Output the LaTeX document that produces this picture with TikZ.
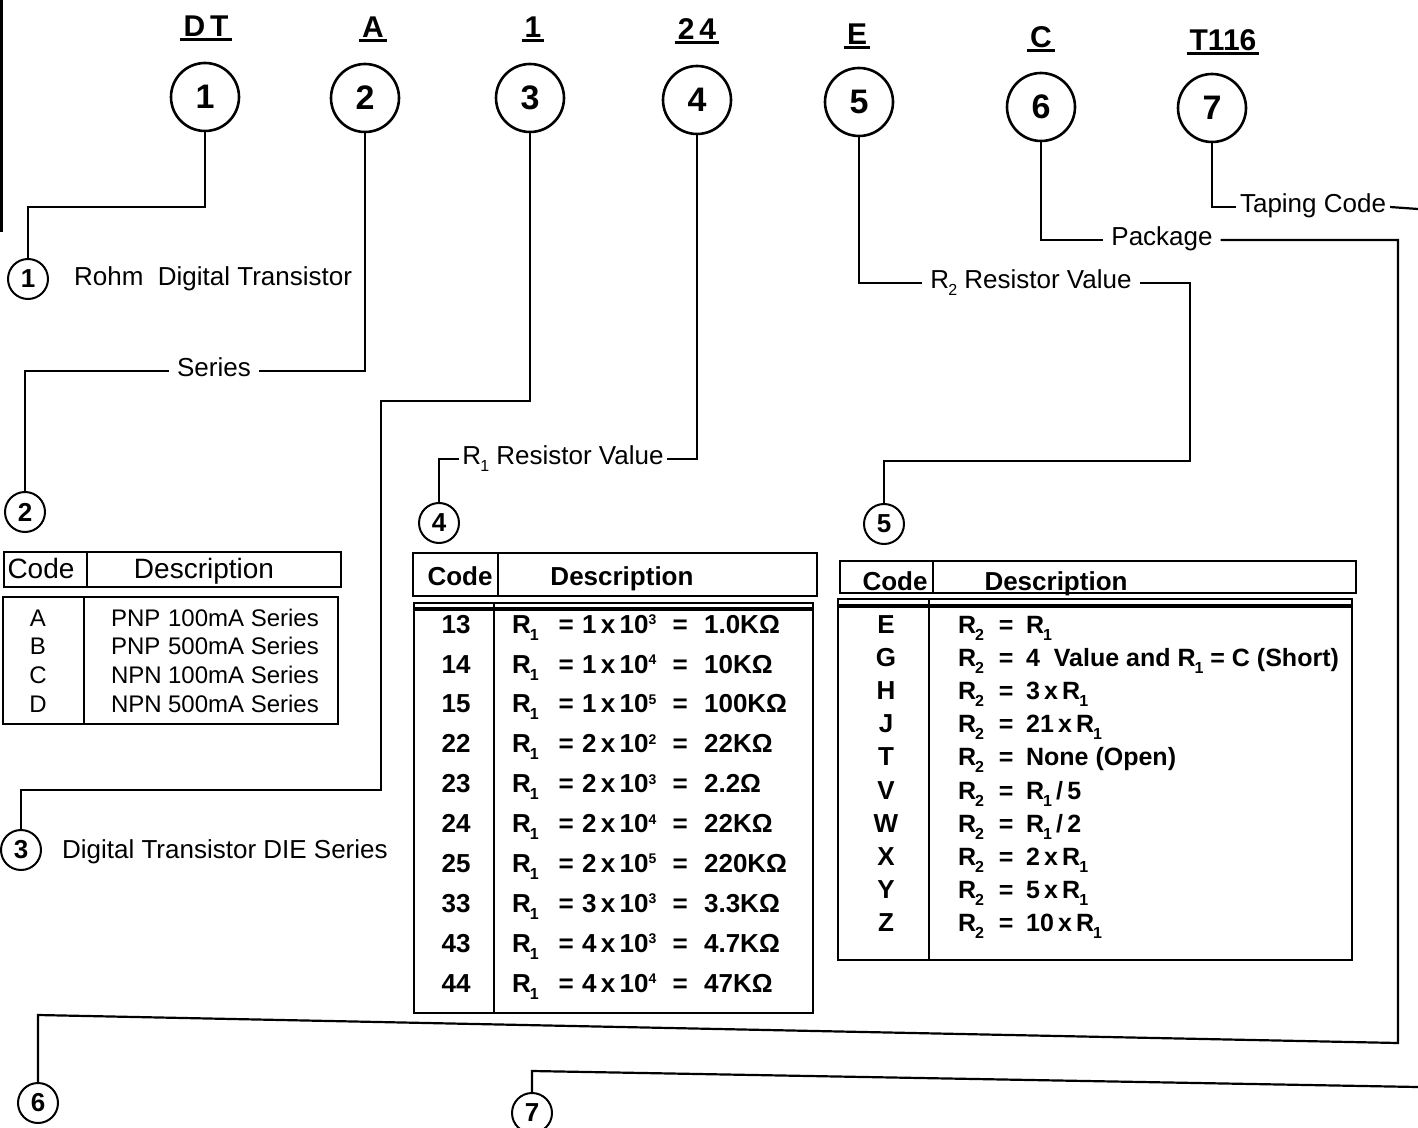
\documentclass[tikz,border=0pt]{standalone}
\usepackage{fontspec}
\setmainfont{Liberation Sans}
\usepackage{tikz}
\usetikzlibrary{positioning, calc}
\newcommand{\topstrut}{\rule{0pt}{12pt}}
\newcommand{\lo}[1]{\kern-0.5pt\raisebox{-3.5pt}{\fontsize{8}{8}\selectfont #1}}
\newcommand{\hi}[1]{\raisebox{4.3pt}{\fontsize{7}{7}\selectfont #1}}
\newcommand{\rone}[3]{\makebox[22pt][l]{R\lo{1}}\makebox[10pt]{=}\hspace{3pt}\makebox[44pt][l]{#1\,x\,10\hi{#2}}\makebox[10pt]{=}\hspace{7pt}#3}
\newcommand{\rtwo}[1]{\makebox[18pt][l]{R\lo{2}}\makebox[12pt]{=}\hspace{4pt}#1}

\begin{document}
\begin{tikzpicture}[x=0.5pt, y=-0.5pt, line width=1.1pt]
\tikzstyle{bigno} = [circle, draw, line width=1.3pt, minimum size=34pt, inner sep=0pt, font=\fontsize{17}{17}\selectfont\bfseries]
\tikzstyle{smallno} = [circle, draw, line width=1pt, minimum size=20pt, inner sep=0pt, font=\fontsize{13}{13}\selectfont\bfseries]
\tikzstyle{partcode} = [inner sep=1pt, font=\fontsize{15}{15}\selectfont\bfseries]
\tikzstyle{lbl} = [inner sep=3.5pt, font=\fontsize{13}{13}\selectfont]
\tikzstyle{tbox} = [line width=1.2pt]
\tikzstyle{thead} = [inner sep=0pt, anchor=base, font=\fontsize{13}{13}\selectfont\bfseries]
\useasboundingbox (0,0) rectangle (1418,1128);
\draw[line width=1.5pt] (1,0) -- (1,232);

% part number and its fields
\node[partcode] (hdt) at (206,26) {D\,T};
\node[partcode] (ha) at (373,27) {A};
\node[partcode] (hone) at (533,27) {1};
\node[partcode] (htf) at (697,29) {2\,4};
\node[partcode] (he) at (857,34) {E};
\node[partcode] (hc) at (1041,37) {C};
\node[partcode] (ht) at (1223,40) {T116};
\foreach \h in {hdt,ha,hone,htf,he,hc,ht}
  \draw[line width=1.5pt] (\h.south west) -- (\h.south east);

\node[bigno] (c1) at (205,97) {1};
\node[bigno] (c2) at (365,98) {2};
\node[bigno] (c3) at (530,98) {3};
\node[bigno] (c4) at (697,100) {4};
\node[bigno] (c5) at (859,102) {5};
\node[bigno] (c6) at (1041,107) {6};
\node[bigno] (c7) at (1212,108) {7};

% callouts
\node[smallno] (s1) at (28,279) {1};
\node[smallno] (s2) at (25,512) {2};
\node[smallno] (s3) at (21,850) {3};
\node[smallno] (s4) at (439,523) {4};
\node[smallno] (s5) at (884,524) {5};
\node[smallno] (s6) at (38,1103) {6};
\node[smallno] (s7) at (532,1113) {7};

\node[lbl, anchor=west] (lrohm) at (66,279) {Rohm\ \ Digital Transistor};
\node[lbl, anchor=west] (ldie) at (54,852) {Digital Transistor DIE Series};
\node[lbl, anchor=mid] (lser) at (214,371) {Series};
\node[lbl, anchor=mid, inner xsep=1pt] (lrone) at (563,459) {R\lo{1} Resistor Value};
\node[lbl, anchor=mid] (lrtwo) at (1031,283) {R\lo{2} Resistor Value};
\node[lbl, anchor=mid] (lpkg) at (1162,240) {Package};
\node[lbl, anchor=mid, inner xsep=1.5pt] (ltap) at (1313,207) {Taping Code};

\draw (c1.south) |- (28,207) -- (s1.north);
\draw (c2.south) |- (lser.mid east);
\draw (lser.mid west) -| (s2.north);
\draw (c3.south) |- (381,401) |- (21,790) -- (s3.north);
\draw (c4.south) |- (lrone.mid east);
\draw (lrone.mid west) -| (s4.north);
\draw (c5.south) |- (lrtwo.mid west);
\draw (lrtwo.mid east) -| (1190,461) -| (s5.north);
\draw (c6.south) |- (lpkg.mid west);
\draw (lpkg.mid east) -| (1398,1043) -- (38,1015) -- (s6.north);
\draw (c7.south) |- (ltap.mid west);
\coordinate (tapend) at (1418,209);
\coordinate (tapback) at (1418,1087);
\draw (ltap.mid east) -- (tapend);
\draw (tapback) -- (532,1071) -- (s7.north);

% table 2: series
\draw[tbox] (4,552) rectangle (341,587);
\draw[tbox] (87,552) -- (87,587);
\draw[tbox] (3,597) rectangle (338,724);
\draw[tbox] (84,597) -- (84,724);
\node[thead, font=\fontsize{14}{14}\selectfont] (t2code) at (41,578) {Code};
\node[thead, font=\fontsize{14}{14}\selectfont] (t2desc) at (204,578) {Description};
\node[inner sep=0pt, anchor=north, align=center, font=\fontsize{12}{14.4}\selectfont] (t2codes) at (38,601) {\topstrut A\\B\\C\\D};
\node[inner sep=0pt, anchor=north west, align=left, font=\fontsize{12}{14.4}\selectfont] (t2rows) at (110,601)
  {\topstrut\makebox[28.5pt][l]{PNP}100mA Series\\\makebox[28.5pt][l]{PNP}500mA Series\\\makebox[28.5pt][l]{NPN}100mA Series\\\makebox[28.5pt][l]{NPN}500mA Series};

% table 4: R1 value
\draw[tbox] (413,553) rectangle (817,596);
\draw[tbox] (498,553) -- (498,596);
\draw[tbox] (414,603) rectangle (813,1013);
\draw[tbox] (494,603) -- (494,1013);
\draw[line width=2pt] (414,609) -- (813,609);
\node[thead] (t4code) at (460,585) {Code};
\node[thead] (t4desc) at (622,585) {Description};
\node[inner sep=0pt, anchor=north, align=center, font=\fontsize{13}{19.95}\selectfont\bfseries] (t4codes) at (456,608)
  {\topstrut 13\\14\\15\\22\\23\\24\\25\\33\\43\\44};
\node[inner sep=0pt, anchor=north west, align=left, font=\fontsize{13}{19.95}\selectfont\bfseries] (t4rows) at (511,608)
  {\topstrut\rone{1}{3}{1.0KΩ}\\\rone{1}{4}{10KΩ}\\\rone{1}{5}{100KΩ}\\\rone{2}{2}{22KΩ}\\\rone{2}{3}{2.2Ω}\\\rone{2}{4}{22KΩ}\\\rone{2}{5}{220KΩ}\\\rone{3}{3}{3.3KΩ}\\\rone{4}{3}{4.7KΩ}\\\rone{4}{4}{47KΩ}};

% table 5: R2 value
\draw[tbox] (840,561) rectangle (1356,593);
\draw[tbox] (933,561) -- (933,593);
\draw[tbox] (838,599) rectangle (1352,960);
\draw[tbox] (929,599) -- (929,960);
\draw[line width=2pt] (838,606) -- (1352,606);
\node[thead] (t5code) at (895,590) {Code};
\node[thead] (t5desc) at (1056,590) {Description};
\node[inner sep=0pt, anchor=north, align=center, font=\fontsize{13}{16.6}\selectfont\bfseries] (t5codes) at (886,608)
  {\topstrut E\\G\\H\\J\\T\\V\\W\\X\\Y\\Z};
\node[inner sep=0pt, anchor=north west, align=left, font=\fontsize{12.5}{16.6}\selectfont\bfseries] (t5rows) at (957,608)
  {\topstrut\rtwo{R\lo{1}}\\\rtwo{4\ \ Value and R\lo{1} = C (Short)}\\\rtwo{3\,x\,R\lo{1}}\\\rtwo{21\,x\,R\lo{1}}\\\rtwo{None (Open)}\\\rtwo{R\lo{1}\,/\,5}\\\rtwo{R\lo{1}\,/\,2}\\\rtwo{2\,x\,R\lo{1}}\\\rtwo{5\,x\,R\lo{1}}\\\rtwo{10\,x\,R\lo{1}}};
\end{tikzpicture}
\end{document}
